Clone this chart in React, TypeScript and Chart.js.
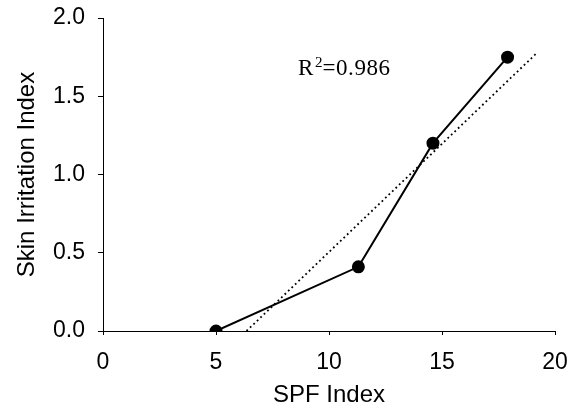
import React, { useEffect, useRef } from "react";
import { Chart, registerables } from "chart.js";

Chart.register(...registerables);

const spfIndex = [5, 11.3, 14.6, 17.9];
const irritationIndex = [0, 0.41, 1.2, 1.75];
const trendX = [6.35, 19.15];
const trendY = [0, 1.77];
const xTicks = [0, 5, 10, 15, 20];
const yTicks = [0, 0.5, 1.0, 1.5, 2.0];
const rSquared = "0.986";

const SANS = "'Liberation Sans', Arial, Helvetica, sans-serif";
const SERIF = "'Liberation Serif', 'Times New Roman', serif";

const r2Plugin = {
  id: "r2label",
  afterDatasetsDraw(chart: any) {
    const ctx = chart.ctx;
    const xs = chart.scales.x;
    const ys = chart.scales.y;
    let x = xs.getPixelForValue(8.63);
    const y = ys.getPixelForValue(1.636);
    ctx.save();
    ctx.fillStyle = "#000";
    ctx.textBaseline = "alphabetic";
    ctx.textAlign = "left";
    ctx.font = `23px ${SERIF}`;
    ctx.fillText("R", x, y);
    x += ctx.measureText("R").width + 1.5;
    ctx.font = `15px ${SERIF}`;
    ctx.fillText("2", x, y - 8);
    x += ctx.measureText("2").width;
    ctx.font = `23px ${SERIF}`;
    (ctx as any).letterSpacing = "0.6px";
    ctx.fillText("=" + rSquared, x, y);
    ctx.restore();
  },
};

export default function App() {
  const ref = useRef<HTMLCanvasElement | null>(null);
  useEffect(() => {
    if (!ref.current) return;
    const chart = new Chart(ref.current, {
      type: "scatter",
      data: {
        datasets: [
          {
            label: "Data",
            data: spfIndex.map((x, i) => ({ x, y: irritationIndex[i] })),
            showLine: true,
            borderColor: "#000",
            backgroundColor: "#000",
            borderWidth: 2,
            pointRadius: 5.5,
            pointBackgroundColor: "#000",
            pointBorderColor: "#000",
            order: 1,
          },
          {
            label: "Trend",
            data: trendX.map((x, i) => ({ x, y: trendY[i] })),
            showLine: true,
            borderColor: "#000",
            borderWidth: 1.8,
            borderDash: [1.8, 3],
            pointRadius: 0,
            order: 2,
          },
        ],
      },
      options: {
        animation: false,
        responsive: false,
        maintainAspectRatio: false,
        layout: { padding: { top: 18, right: 18, left: 0, bottom: 0 } },
        plugins: {
          legend: { display: false },
          tooltip: { enabled: false },
        },
        scales: {
          x: {
            type: "linear",
            min: 0,
            max: 20,
            afterBuildTicks: (s: any) => {
              s.ticks = xTicks.map((v) => ({ value: v }));
            },
            afterFit: (s: any) => {
              s.height = 79;
              s.paddingLeft = 0;
              s.paddingRight = 0;
            },
            ticks: {
              color: "#000",
              font: { family: SANS, size: 23 },
              padding: 14,
              maxRotation: 0,
              callback: (v: any) => String(v),
            },
            grid: {
              display: true,
              drawOnChartArea: false,
              drawTicks: true,
              tickLength: 4,
              color: "#000",
            },
            border: { display: true, color: "#000", width: 1 },
            title: {
              display: true,
              text: "SPF Index",
              color: "#000",
              font: { family: SANS, size: 24 },
              padding: { top: 0, bottom: 0 },
            },
          },
          y: {
            type: "linear",
            min: 0,
            max: 2,
            afterBuildTicks: (s: any) => {
              s.ticks = yTicks.map((v) => ({ value: v }));
            },
            afterFit: (s: any) => {
              s.width = 103;
              s.paddingTop = 0;
              s.paddingBottom = 0;
            },
            ticks: {
              color: "#000",
              font: { family: SANS, size: 23 },
              padding: 13,
              callback: (v: any) => Number(v).toFixed(1),
            },
            grid: {
              display: true,
              drawOnChartArea: false,
              drawTicks: true,
              tickLength: 5,
              color: "#000",
            },
            border: { display: true, color: "#000", width: 1 },
            title: {
              display: true,
              text: "Skin Irritation Index",
              color: "#000",
              font: { family: SANS, size: 24 },
              padding: { top: 13, bottom: 0 },
            },
          },
        },
      },
      plugins: [r2Plugin],
    });
    return () => chart.destroy();
  }, []);
  return (
    <div style={{ position: "absolute", left: 0, top: 0, width: 573, height: 410, background: "#fff" }}>
      <canvas ref={ref} width={573} height={410} style={{ width: 573, height: 410, display: "block" }} />
    </div>
  );
}
